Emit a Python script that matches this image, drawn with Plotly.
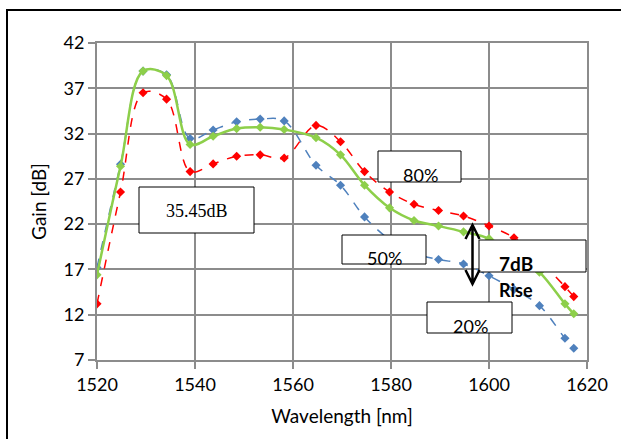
import plotly.graph_objects as go

wavelength = [1520, 1524.8, 1529.4, 1534.2, 1539, 1543.7, 1548.5, 1553.3, 1558.2, 1564.7,
              1569.7, 1574.6, 1579.7, 1584.7, 1589.7, 1594.8, 1600, 1605.1, 1610.3, 1615.5, 1617.3]
gain_20 = [17.2, 28.6, 38.9, 38.5, 31.45, 32.4, 33.3, 33.6, 33.4, 28.5,
           26.3, 22.8, 20.3, 18.8, 18.1, 17.6, 16.3, 14.8, 13.0, 9.4, 8.3]
gain_50 = [16.4, 28.4, 38.9, 38.4, 30.8, 31.7, 32.55, 32.7, 32.45, 31.55,
           29.65, 26.3, 23.8, 22.4, 21.8, 21.15, 20.4, 18.8, 16.7, 13.2, 12.1]
gain_80 = [13.2, 25.55, 36.5, 35.8, 27.8, 28.65, 29.5, 29.65, 29.3, 32.9,
           31.1, 27.8, 25.55, 24.2, 23.5, 22.9, 21.8, 20.5, 18.0, 15.1, 14.0]
x_ticks = [1520, 1540, 1560, 1580, 1600, 1620]
y_ticks = [7, 12, 17, 22, 27, 32, 37, 42]

W, H = 621, 439
L, R, T, B = 97, 34, 43, 79
pw, ph = W - L - R, H - T - B

fig = go.Figure()
fig.add_trace(go.Scatter(x=wavelength, y=gain_20, mode="lines+markers", name="20%",
                         line=dict(color="#4F81BD", width=1.5, dash="dash", shape="spline"),
                         marker=dict(symbol="diamond", size=7, color="#4F81BD")))
fig.add_trace(go.Scatter(x=wavelength, y=gain_80, mode="lines+markers", name="80%",
                         line=dict(color="#FF0000", width=1.5, dash="dash", shape="spline"),
                         marker=dict(symbol="diamond", size=7, color="#FF0000")))
fig.add_trace(go.Scatter(x=wavelength, y=gain_50, mode="lines+markers", name="50%",
                         line=dict(color="#8DCF4A", width=2.5, shape="spline"),
                         marker=dict(symbol="diamond", size=7, color="#8DCF4A")))

def px2x(p):
    return 1520 + (p - L) / pw * 100

def px2y(p):
    return 42 - (p - T) / ph * 35

def box(x0, y0, x1, y1):
    fig.add_shape(type="rect", xref="x", yref="y", x0=px2x(x0), x1=px2x(x1),
                  y0=px2y(y1), y1=px2y(y0), line=dict(color="black", width=1),
                  fillcolor="white", layer="above")

box(139, 187, 254, 233)
box(378, 151, 461, 182)
box(342, 235, 426, 264)
box(427, 302, 512, 333)
box(479, 240, 586, 272)

sans = "Lato, Open Sans, sans-serif"
ann = [
    dict(x=px2x(197), y=px2y(211), text="35.45dB", font=dict(family="Liberation Serif", size=18, color="black")),
    dict(x=px2x(420), y=px2y(175), text="80%", font=dict(family=sans, size=18, color="black")),
    dict(x=px2x(384), y=px2y(258), text="50%", font=dict(family=sans, size=18, color="black")),
    dict(x=px2x(470), y=px2y(326), text="20%", font=dict(family=sans, size=18, color="black")),
    dict(x=px2x(497), y=px2y(263), text="<b>7dB</b>", xanchor="left", font=dict(family=sans, size=19, color="black")),
    dict(x=px2x(497), y=px2y(290), text="<b>Rise</b>", xanchor="left", font=dict(family=sans, size=18, color="black")),
    dict(x=px2x(182), y=px2y(32), text="<b>C- Band</b>", font=dict(family=sans, size=16, color="black")),
    dict(x=px2x(494), y=px2y(32), text="<b>L-Band</b>", font=dict(family=sans, size=16, color="black")),
]
for a in ann:
    fig.add_annotation(xref="x", yref="y", showarrow=False, **a)

# double arrow (open V heads)
xa, ytop, ybot, hw, hh = 472.5, 225, 284, 7, 14
path = (f"M {px2x(xa)},{px2y(ytop)} L {px2x(xa)},{px2y(ybot)} "
        f"M {px2x(xa - hw)},{px2y(ytop + hh)} L {px2x(xa)},{px2y(ytop)} L {px2x(xa + hw)},{px2y(ytop + hh)} "
        f"M {px2x(xa - hw)},{px2y(ybot - hh)} L {px2x(xa)},{px2y(ybot)} L {px2x(xa + hw)},{px2y(ybot - hh)}")
fig.add_shape(type="path", xref="x", yref="y", path=path,
              line=dict(color="black", width=2.5), layer="above")

# outer border (only top and left visible in the frame)
fig.add_shape(type="rect", xref="paper", yref="paper",
              x0=(7 - L) / pw, x1=(700 - L) / pw, y0=-(B + 40) / ph, y1=1 + (T - 10) / ph,
              line=dict(color="black", width=2), fillcolor="rgba(0,0,0,0)")

fig.update_layout(
    width=W, height=H, margin=dict(l=L, r=R, t=T, b=B),
    paper_bgcolor="white", plot_bgcolor="white", showlegend=False,
    font=dict(family=sans, size=18, color="black"),
)
fig.update_xaxes(range=[1520, 1620], tickvals=x_ticks, showgrid=True, gridcolor="#8C8C8C",
                 gridwidth=2, showline=True, linecolor="#8C8C8C", linewidth=2, mirror=True,
                 ticks="outside", ticklen=7, tickcolor="#8C8C8C", tickwidth=2, zeroline=False,
                 title=dict(text="Wavelength [nm]", font=dict(size=19), standoff=16),
                 tickfont=dict(size=18))
fig.update_yaxes(range=[7, 42], tickvals=y_ticks, showgrid=True, gridcolor="#8C8C8C",
                 gridwidth=2, showline=True, linecolor="#8C8C8C", linewidth=2, mirror=True,
                 ticks="outside", ticklen=7, tickcolor="#8C8C8C", tickwidth=2, zeroline=False,
                 title=dict(text="Gain [dB]", font=dict(size=19), standoff=12),
                 tickfont=dict(size=18))

fig.write_html("out.html")
